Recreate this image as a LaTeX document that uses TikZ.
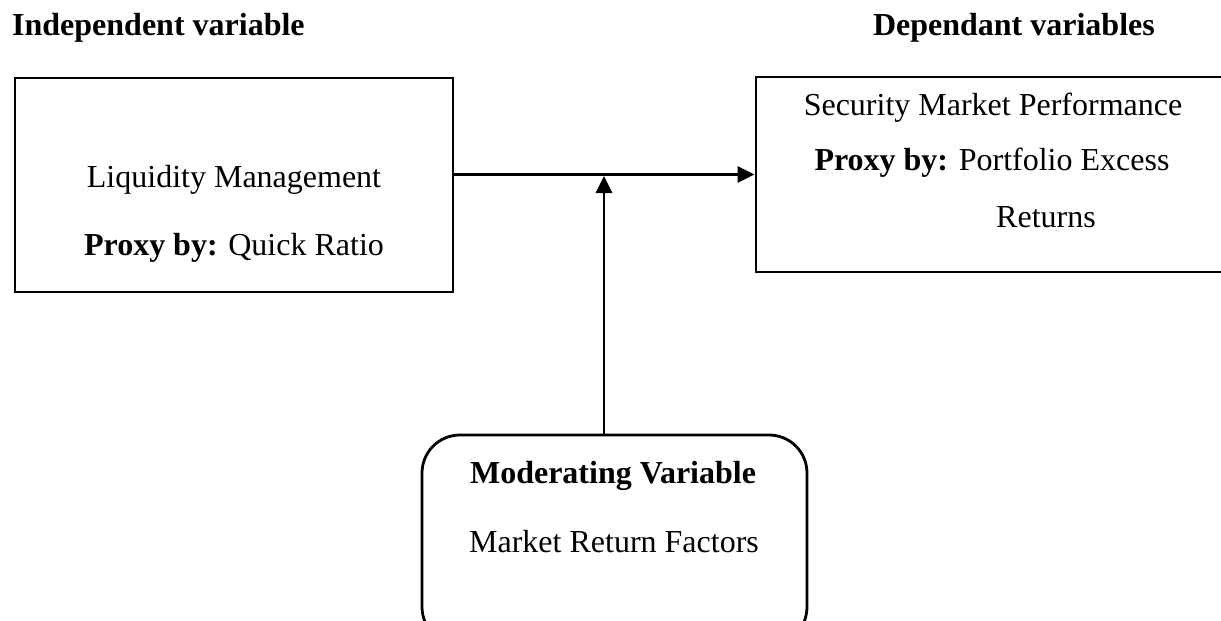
\documentclass[tikz,border=0pt]{standalone}
\usepackage{fontspec}
\setmainfont{Liberation Serif}
\usetikzlibrary{arrows.meta}
\begin{document}
\begin{tikzpicture}[x=1pt,y=-1pt,
  box/.style={draw,line width=2.8pt,inner sep=0pt},
  txt/.style={font=\fontsize{32}{38}\selectfont,inner sep=0pt,anchor=base},
  conn/.style={line width=2.8pt,-{Triangle[length=17pt,width=16pt]}}]
\useasboundingbox (0,0) rectangle (1221,621);
\clip (0,0) rectangle (1221,621);
\node[box,minimum width=438pt,minimum height=214pt] (iv) at (234,185) {};
\node[box,minimum width=470pt,minimum height=195pt] (dv) at (991,174.5) {};
\node[box,rounded corners=38pt,minimum width=385pt,minimum height=210pt] (mv) at (614.5,540) {};
\node[txt,anchor=base west] (h1) at (12,35) {\textbf{Independent variable}};
\node[txt,anchor=base east] (h2) at (1155,35) {\textbf{Dependant variables}};
\node[txt] (t1) at (234,187) {Liquidity Management};
\node[txt] (t2) at (234,255) {\textbf{Proxy by:} Quick Ratio};
\node[txt] (t3) at (993,115) {Security Market Performance};
\node[txt] (t4) at (992,170) {\textbf{Proxy by:} Portfolio Excess};
\node[txt] (t5) at (1046,227) {Returns};
\node[txt] (t6) at (613,483) {\textbf{Moderating Variable}};
\node[txt] (t7) at (614,552) {Market Return Factors};
\coordinate (j) at (604,176);
\draw[conn] (iv.east |- dv.west) -- (dv.west);
\draw[conn] ([xshift=-10.5pt]mv.north) -- (j);
\end{tikzpicture}
\end{document}
